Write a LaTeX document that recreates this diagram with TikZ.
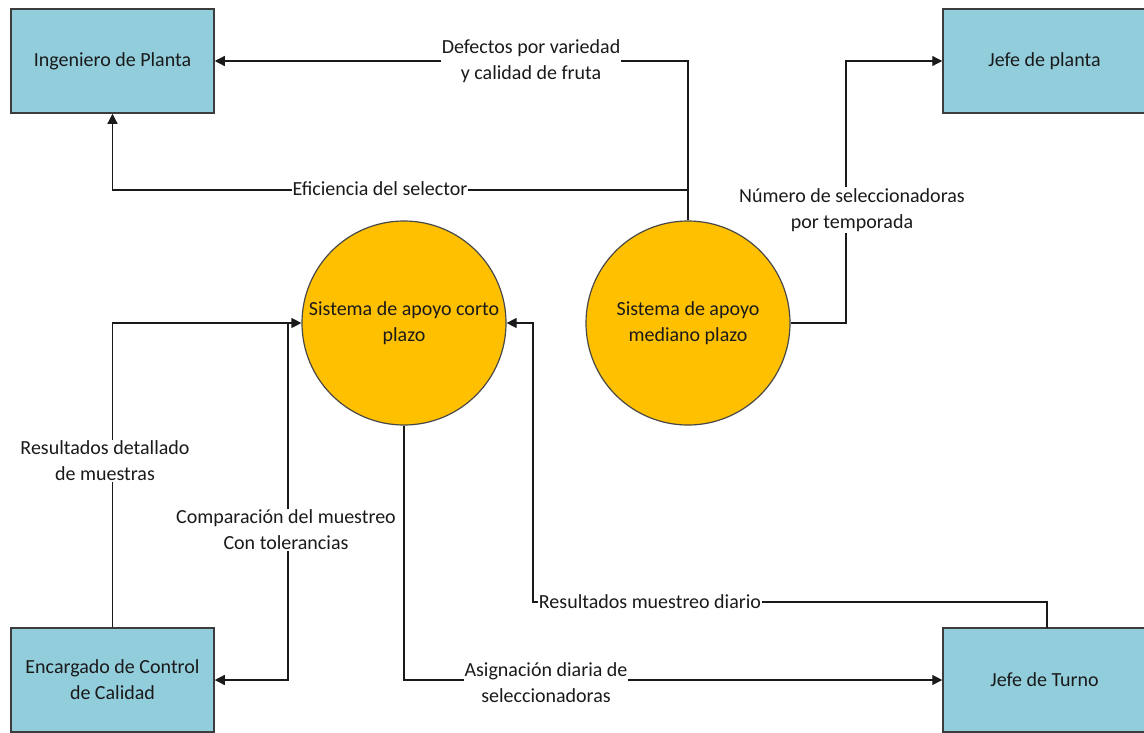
\documentclass[tikz,border=0pt]{standalone}
\usepackage{fontspec}
\setmainfont{Carlito}
\usetikzlibrary{arrows.meta}
\definecolor{boxblue}{HTML}{92CDDC}
\definecolor{sysgold}{HTML}{FFC000}
\definecolor{ink}{HTML}{1A1A1A}
\begin{document}
\begin{tikzpicture}[x=1pt,y=-1pt,
  txt/.style={font=\fontsize{20}{26}\selectfont, text=ink, align=center},
  entity/.style={txt, draw=ink!85, line width=1.5pt, fill=boxblue, inner sep=0pt,
    minimum width=203pt, minimum height=104pt},
  process/.style={txt, circle, draw=ink!80, line width=1.2pt, fill=sysgold, inner sep=0pt,
    minimum size=204pt},
  flow/.style={line width=1.2pt, draw=ink, -{Triangle[length=10pt,width=10pt]}},
  flowlabel/.style={txt, fill=white, inner sep=1pt}]
\useasboundingbox (0,0) rectangle (1144,732);

% external entities
\node[entity] (ing) at (112.5,61) {Ingeniero de Planta};
\node[entity] (jp)  at (1044.5,61) {Jefe de planta};
\node[entity] (enc) at (112.5,680) {Encargado de Control\\de Calidad};
\node[entity] (jt)  at (1044.5,680) {Jefe de Turno};

% processes
\node[process] (sc) at (404,323) {Sistema de apoyo corto\\plazo};
\node[process] (sm) at (688,323) {Sistema de apoyo\\mediano plazo};

% bend points
\coordinate (br) at (688,190);
\coordinate (k1) at (846,323);
\coordinate (k2) at (288,323);
\coordinate (k3) at (1047,628);
\coordinate (k4) at (533,602);

% data flows
\draw[flow] (sm.north) |- (ing.east);
\draw[flow] (br) -| (ing.south);
\draw[flow] (sm.east) -- (k1) |- (jp.west);
\draw[flow] (enc.north) |- (sc.west);
\draw[flow] (k2) |- (enc.east);
\draw[flow] (sc.south) |- (jt.west);
\draw[flow] (k3) |- (k4) |- (sc.east);

% flow labels
\node[flowlabel] (l1) at (531,61) {Defectos por variedad\\y calidad de fruta};
\node[flowlabel] (l2) at (380,189) {Eficiencia del selector};
\node[flowlabel] (l3) at (852,210) {Número de seleccionadoras\\por temporada};
\node[flowlabel] (l4) at (105,461) {Resultados detallado\\de muestras};
\node[flowlabel] (l5) at (286,530) {Comparación del muestreo\\Con tolerancias};
\node[flowlabel] (l6) at (546,683) {Asignación diaria de\\seleccionadoras};
\node[flowlabel] (l7) at (650,602) {Resultados muestreo diario};
\end{tikzpicture}
\end{document}
